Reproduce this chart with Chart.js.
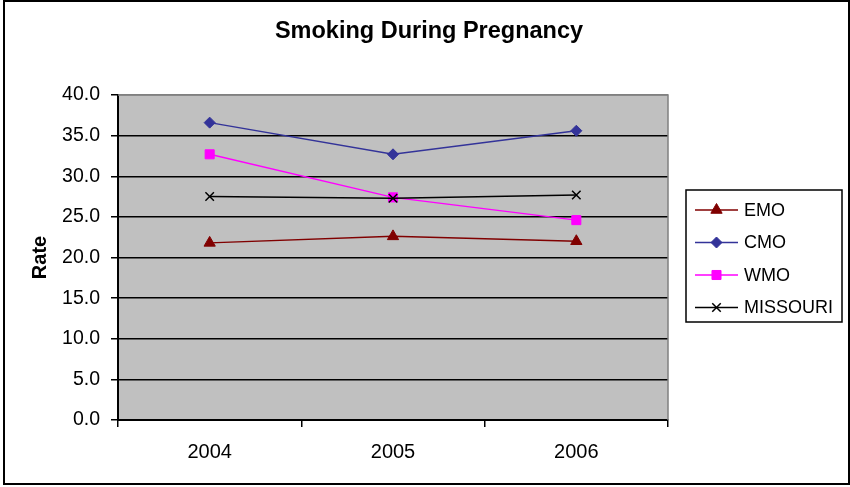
<!DOCTYPE html>
<html>
<head>
<meta charset="utf-8">
<script src="https://cdn.jsdelivr.net/npm/chart.js@4/dist/chart.umd.min.js"></script>
<style>
  html, body { margin: 0; padding: 0; background: #ffffff; }
  #wrap { width: 850px; height: 487px; position: relative; }
</style>
</head>
<body>
<div id="wrap"><canvas id="chart" width="850" height="487"></canvas></div>
<script>
// Smoking rate during pregnancy by region, 2004-2006
const chartTitle = 'Smoking During Pregnancy';
const years = ['2004', '2005', '2006'];
const emo = [21.8, 22.6, 22.0];
const cmo = [36.6, 32.7, 35.6];
const wmo = [32.7, 27.4, 24.6];
const missouri = [27.5, 27.3, 27.7];
const yTicks = [0, 5, 10, 15, 20, 25, 30, 35, 40];

const FONT = '"Liberation Sans", Arial, sans-serif';

// Grey plot background, top/right frame, page title and the outer border
const framePlugin = {
  id: 'frame',
  beforeDraw(chart) {
    const { ctx, chartArea: a } = chart;
    ctx.save();
    ctx.fillStyle = '#c0c0c0';
    ctx.fillRect(a.left, a.top, a.right - a.left, a.bottom - a.top);
    ctx.restore();
  },
  afterDraw(chart) {
    const { ctx, chartArea: a } = chart;
    ctx.save();
    ctx.strokeStyle = '#808080';
    ctx.lineWidth = 1.5;
    ctx.beginPath();
    ctx.moveTo(a.left, a.top);
    ctx.lineTo(a.right, a.top);
    ctx.lineTo(a.right, a.bottom);
    ctx.stroke();
    // title centred across the whole page
    ctx.fillStyle = '#000000';
    ctx.font = 'bold 23.5px ' + FONT;
    ctx.textAlign = 'center';
    ctx.textBaseline = 'middle';
    ctx.fillText(chartTitle, 429, 32);
    ctx.strokeStyle = '#000000';
    ctx.lineWidth = 2;
    ctx.strokeRect(4, 1, 845, 483);
    ctx.restore();
  }
};

// Boxed legend on the right: line sample with marker, then label
const boxLegend = {
  id: 'boxLegend',
  afterDraw(chart) {
    const { ctx } = chart;
    const box = { x: 686, y: 190, w: 156, h: 132 };
    ctx.save();
    ctx.fillStyle = '#ffffff';
    ctx.fillRect(box.x, box.y, box.w, box.h);
    ctx.strokeStyle = '#000000';
    ctx.lineWidth = 1.5;
    ctx.strokeRect(box.x, box.y, box.w, box.h);
    ctx.font = '18px ' + FONT;
    ctx.textBaseline = 'middle';
    ctx.textAlign = 'left';
    chart.data.datasets.forEach((ds, i) => {
      const y = box.y + 20 + i * 32.5;
      ctx.strokeStyle = ds.borderColor;
      ctx.lineWidth = 1.5;
      ctx.beginPath();
      ctx.moveTo(695, y);
      ctx.lineTo(738, y);
      ctx.stroke();
      ctx.fillStyle = ds.pointBackgroundColor;
      ctx.strokeStyle = ds.pointBorderColor;
      ctx.lineWidth = ds.pointBorderWidth;
      Chart.helpers.drawPoint(ctx, {
        pointStyle: ds.pointStyle,
        radius: ds.pointRadius,
        borderWidth: ds.pointBorderWidth,
        rotation: 0
      }, 716.5, y);
      ctx.fillStyle = '#000000';
      ctx.fillText(ds.label, 744, y + 1);
    });
    ctx.restore();
  }
};

function series(label, data, color, style, radius, order) {
  return {
    label, data, order,
    borderColor: color,
    backgroundColor: color,
    borderWidth: 1.5,
    pointStyle: style,
    pointRadius: radius,
    pointHoverRadius: radius,
    pointBackgroundColor: color,
    pointBorderColor: color,
    pointBorderWidth: style === 'crossRot' ? 1.5 : 1,
    tension: 0,
    fill: false
  };
}

new Chart(document.getElementById('chart'), {
  type: 'line',
  data: {
    labels: years,
    datasets: [
      series('EMO', emo, '#800000', 'triangle', 6.5, 3),
      series('CMO', cmo, '#333399', 'rectRot', 5.5, 2),
      series('WMO', wmo, '#ff00ff', 'rect', 6.4, 1),
      series('MISSOURI', missouri, '#000000', 'crossRot', 6, 0)
    ]
  },
  options: {
    responsive: false,
    animation: false,
    events: [],
    layout: { padding: { left: 0, right: 182, top: 95, bottom: 0 } },
    plugins: {
      legend: { display: false },
      tooltip: { enabled: false },
      title: { display: false }
    },
    scales: {
      x: {
        type: 'category',
        offset: true,
        afterFit(scale) { scale.height = 67; },
        grid: {
          offset: true,
          drawOnChartArea: false,
          drawTicks: true,
          tickLength: 7,
          color: '#000000',
          lineWidth: 1.5
        },
        border: { display: true, color: '#000000', width: 2 },
        ticks: {
          color: '#000000',
          font: { family: FONT, size: 20 },
          padding: 13,
          maxRotation: 0
        }
      },
      y: {
        min: 0,
        max: 40,
        afterFit(scale) { scale.width = 118; },
        afterBuildTicks(scale) { scale.ticks = yTicks.map(v => ({ value: v })); },
        grid: {
          drawTicks: true,
          tickLength: 7,
          color: ctx => (ctx.tick && ctx.tick.value === 40 ? '#808080' : '#000000'),
          tickColor: '#000000',
          lineWidth: 1.5
        },
        border: { display: true, color: '#000000', width: 2 },
        ticks: {
          color: '#000000',
          font: { family: FONT, size: 19.5 },
          padding: 11,
          callback: v => Number(v).toFixed(1)
        },
        title: {
          display: true,
          text: 'Rate',
          color: '#000000',
          font: { family: FONT, size: 20, weight: 'bold' },
          padding: { top: 28, bottom: 0 }
        }
      }
    }
  },
  plugins: [framePlugin, boxLegend]
});
</script>
</body>
</html>
